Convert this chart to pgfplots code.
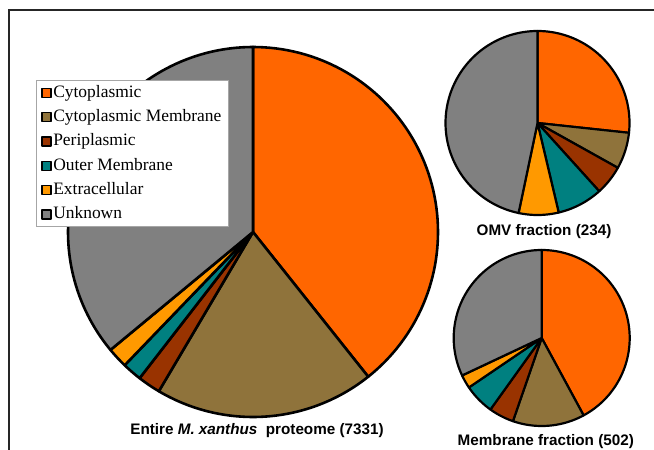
\documentclass[border=0pt]{standalone}
\usepackage{pgfplots}
\pgfplotsset{compat=1.18}
\usepackage{fontspec}
\setmainfont{Liberation Serif}
\newfontfamily\arial{Liberation Sans}
\definecolor{cCyto}{HTML}{FF6600}
\definecolor{cCMem}{HTML}{8F733B}
\definecolor{cPeri}{HTML}{993300}
\definecolor{cOuter}{HTML}{008080}
\definecolor{cExtra}{HTML}{FF9900}
\definecolor{cUnk}{HTML}{808080}
% #1 cx, #2 cy, #3 radius, #4 list value/colour, #5 extra options, #6 line width
\newcommand{\pie}[6]{%
  \gdef\cumul{0}%
  \foreach \v/\c in {#4} {%
    \pgfmathsetmacro\a{\cumul*3.6}%
    \pgfmathsetmacro\e{\cumul+\v}%
    \pgfmathsetmacro\b{\e*3.6}%
    \xdef\cumul{\e}%
    \edef\tmp{\noexpand\addplot[#5, fill=\c, draw=black, line width=#6, line join=round, domain=\a:\b, samples=80] ({#1+#3*sin(x)},{#2-#3*cos(x)}) -- (axis cs:#1,#2) -- cycle;}%
    \tmp
  }%
}
\begin{document}
\begin{tikzpicture}
\begin{axis}[
  width=654bp, height=450bp, scale only axis,
  xmin=0, xmax=654, ymin=0, ymax=450, y dir=reverse,
  hide axis, clip=false,
  legend entries={Cytoplasmic, Cytoplasmic Membrane, Periplasmic, Outer Membrane, Extracellular, Unknown},
  legend cell align=left,
  legend image code/.code={\draw[#1, draw=black, line width=1.3pt] (0bp,-4.5bp) rectangle (9bp,4.5bp);},
  legend style={at={(axis cs:35.7,80.5)}, anchor=north west, draw=gray!70, line width=0.6pt, fill=white,
    font=\fontsize{17.5}{20}\selectfont, row sep=5.8bp, inner xsep=5.5bp, inner ysep=3bp,
    nodes={inner sep=1.5pt, text height=12bp, text depth=3.5bp}},
]
% Entire proteome (7331)
\pie{253}{232}{185}{39.3/cCyto, 19.2/cCMem, 2.0/cPeri, 1.7/cOuter, 1.8/cExtra, 36.0/cUnk}{}{2.6pt}
% OMV fraction (234)
\pie{537.5}{123}{92}{26.7/cCyto, 6.4/cCMem, 5.2/cPeri, 8.0/cOuter, 7.0/cExtra, 46.7/cUnk}{forget plot}{2.2pt}
% Membrane fraction (502)
\pie{541.7}{338}{88}{42.1/cCyto, 13.2/cCMem, 4.6/cPeri, 5.6/cOuter, 2.5/cExtra, 32.0/cUnk}{forget plot}{2.2pt}
\draw[black!85, line width=1.2pt] (axis cs:9,450) -- (axis cs:9,10) -- (axis cs:654,10);
\node[font=\arial\bfseries\fontsize{15.3}{18}\selectfont] at (axis cs:257,431) {Entire \textit{M. xanthus}\ \ proteome (7331)};
\node[font=\arial\bfseries\fontsize{15.3}{18}\selectfont] at (axis cs:544,232) {OMV fraction (234)};
\node[font=\arial\bfseries\fontsize{15.3}{18}\selectfont] at (axis cs:545.8,441.5) {Membrane fraction (502)};
\end{axis}
\pgfresetboundingbox
\useasboundingbox (current axis.south west) rectangle (current axis.north east);
\end{tikzpicture}
\end{document}
